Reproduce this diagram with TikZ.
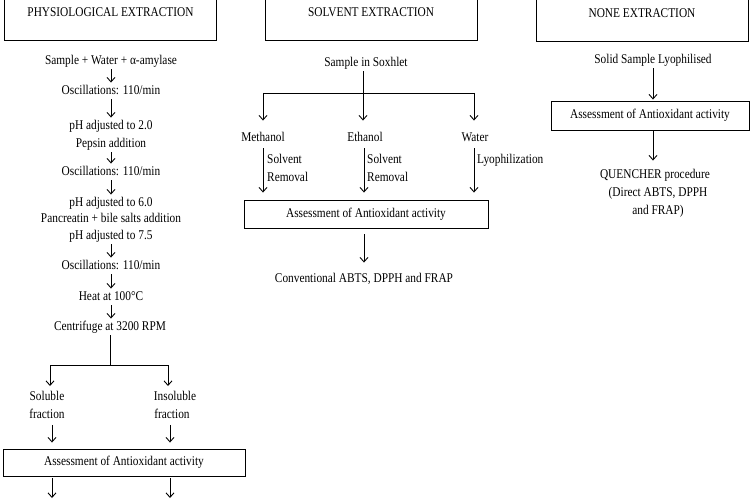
\documentclass[tikz,border=0pt]{standalone}
\usepackage{fontspec}
\setmainfont[FakeStretch=0.85]{Liberation Serif}
\usetikzlibrary{arrows.meta}
\begin{document}
\begin{tikzpicture}[x=1bp,y=-1bp,
  txt/.style={font=\fontsize{13.4}{15}\selectfont, inner sep=2bp, text height=9.5bp, text depth=3bp},
  hdr/.style={txt, draw, line width=1bp, minimum height=56bp},
  abox/.style={txt, draw, line width=0.9bp, inner sep=0pt},
  arr/.style={line width=0.9bp, -{Straight Barb[length=4.5bp,width=8bp]}},
  ln/.style={line width=0.9bp}
]
\useasboundingbox (0,0) rectangle (750,499);
\clip (0,0) rectangle (750,499);

% headers
\node[hdr, minimum width=211bp] (hP) at (110.5,13) {PHYSIOLOGICAL EXTRACTION};
\node[hdr, minimum width=212bp] (hS) at (371,13) {SOLVENT EXTRACTION};
\node[hdr, minimum width=212bp] (hN) at (642,14) {NONE EXTRACTION};

% left column
\node[txt] (samp) at (111,61) {Sample + Water + α-amylase};
\node[txt] (osc1) at (111,91) {Oscillations: 110/min};
\node[txt] (ph2) at (111,126) {pH adjusted to 2.0};
\node[txt] (pep) at (111,144) {Pepsin addition};
\node[txt] (osc2) at (111,172) {Oscillations: 110/min};
\node[txt] (ph6) at (111,203) {pH adjusted to 6.0};
\node[txt] (panc) at (111,219.5) {Pancreatin + bile salts addition};
\node[txt] (ph75) at (111,236) {pH adjusted to 7.5};
\node[txt] (osc3) at (111,266) {Oscillations: 110/min};
\node[txt] (heat) at (111,297) {Heat at 100°C};
\node[txt] (cent) at (110,327) {Centrifuge at 3200 RPM};
\coordinate (jC) at (110,365);
\coordinate (tL) at (50,386);
\coordinate (tR) at (168,386);
\node[txt] (sol1) at (47,397) {Soluble};
\node[txt] (sol2) at (47,415) {fraction};
\node[txt] (ins1) at (175,397) {Insoluble};
\node[txt] (ins2) at (172,415) {fraction};
\node[abox, minimum width=242bp, minimum height=27bp] (asL) at (124,462.5) {Assessment of Antioxidant activity};
\coordinate (eL) at (52,498);
\coordinate (eR) at (170,498);

\draw[arr] (samp) -- (osc1);
\draw[arr] (osc1) -- (ph2);
\draw[arr] (pep) -- (osc2);
\draw[arr] (osc2) -- (ph6);
\draw[arr] (ph75) -- (osc3);
\draw[arr] (osc3) -- (heat);
\draw[arr] (heat) -- (heat |- cent.north);
\draw[ln] (cent) -- (jC);
\draw[arr] (jC) -| (tL);
\draw[arr] (jC) -| (tR);
\draw[arr, shorten <=1.5bp, shorten >=6bp] ([xshift=5bp]sol2.south) -- ([xshift=5bp]sol2.south |- asL.north);
\draw[arr, shorten <=1.5bp, shorten >=6bp] ([xshift=-2bp]ins2.south) -- ([xshift=-2bp]ins2.south |- asL.north);
\draw[arr, shorten <=2bp] (asL.south -| eL) -- (eL);
\draw[arr, shorten <=2bp] (asL.south -| eR) -- (eR);

% middle column
\node[txt] (sox) at (366,63) {Sample in Soxhlet};
\coordinate (bM) at (263,93);
\coordinate (bE) at (363,93);
\coordinate (bW) at (474,93);
\node[txt] (meth) at (263,138) {Methanol};
\node[txt] (eth) at (365,138) {Ethanol};
\node[txt] (wat) at (475,138) {Water};
\draw[arr, shorten >=9bp] (sox.south -| bE) -- (bE |- eth.north);
\draw[ln] (bM) -- (bW);
\draw[arr, shorten >=9bp] (bM) -- (bM |- meth.north);
\draw[arr, shorten >=9bp] (bW) -- (bW |- wat.north);
\node[txt, anchor=west] (sr1) at (265,160) {Solvent};
\node[txt, anchor=west] (rm1) at (265,178) {Removal};
\node[txt, anchor=west] (sr2) at (365,160) {Solvent};
\node[txt, anchor=west] (rm2) at (365,178) {Removal};
\node[txt, anchor=west] (lyo) at (475,160) {Lyophilization};
\node[abox, minimum width=244bp, minimum height=28bp] (asM) at (366,214) {Assessment of Antioxidant activity};
\draw[arr, shorten <=2bp, shorten >=7bp] (meth.south) -- (meth.south |- asM.north);
\draw[arr, shorten <=2bp, shorten >=7bp] ([xshift=-1bp]eth.south) -- ([xshift=-1bp]eth.south |- asM.north);
\draw[arr, shorten <=2bp, shorten >=7bp] ([xshift=-1bp]wat.south) -- ([xshift=-1bp]wat.south |- asM.north);
\node[txt] (conv) at (364,279) {Conventional ABTS, DPPH and FRAP};
\draw[arr, shorten <=6bp, shorten >=8bp] (asM.south -| conv) -- (conv.north);

% right column
\node[txt] (solid) at (653,60) {Solid Sample Lyophilised};
\node[abox, minimum width=198bp, minimum height=29bp] (asR) at (650,115.5) {Assessment of Antioxidant activity};
\draw[arr, shorten >=1bp] (solid.south) -- (solid.south |- asR.north);
\node[txt] (q1) at (655,175) {QUENCHER procedure};
\node[txt] (q2) at (658,193) {(Direct ABTS, DPPH};
\node[txt] (q3) at (658,211) {and FRAP)};
\draw[arr, shorten >=6bp] (asR.south -| solid) -- (solid |- q1.north);
\end{tikzpicture}
\end{document}
